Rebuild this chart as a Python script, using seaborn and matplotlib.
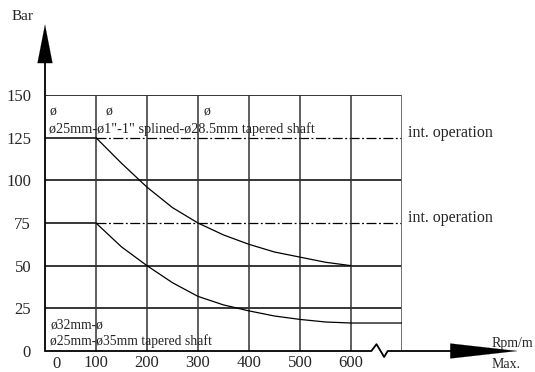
import numpy as np
import pandas as pd
import matplotlib
matplotlib.use("Agg")
import matplotlib.pyplot as plt
import seaborn as sns

# Curve data (rpm vs bar)
rpm_upper = [100, 150, 200, 250, 300, 350, 400, 450, 500, 550, 600]
bar_upper = [125, 110, 96, 84, 75, 68, 62.5, 58, 55, 52, 50]
rpm_lower = [100, 150, 200, 250, 300, 350, 400, 450, 500, 550, 600, 700]
bar_lower = [75, 61, 50, 40, 32, 27, 23.5, 20.5, 18.5, 17, 16.4, 16.4]

x_ticks = [0, 100, 200, 300, 400, 500, 600]
y_ticks = [0, 25, 50, 75, 100, 125, 150]
solid_rows = [25, 50, 100, 150]
dashed_rows = [75, 125]

sns.set_theme(style="white")
plt.rcParams["font.family"] = ["Liberation Serif", "DejaVu Sans"]

fig = plt.figure(figsize=(5.35, 3.72), dpi=100)
ax = fig.add_axes([45 / 535, 21 / 372, 357 / 535, 256 / 372])
ax.set_xlim(0, 700)
ax.set_ylim(0, 150)

# grid
for y in solid_rows:
    ax.plot([0, 700], [y, y], color="black", lw=1.1, zorder=2)
for y in dashed_rows:
    ax.plot([0, 100], [y, y], color="black", lw=1.1, zorder=2)
    ax.plot([100, 700], [y, y], color="black", lw=0.9, ls=(0, (8, 2, 1.5, 2)), zorder=2)
for x in x_ticks[1:]:
    ax.plot([x, x], [0, 150], color="#333333", lw=1.1, zorder=2)
ax.plot([700, 700], [0, 150], color="#666666", lw=1.3, zorder=2)

# curves
df_up = pd.DataFrame({"rpm": rpm_upper, "bar": bar_upper})
df_lo = pd.DataFrame({"rpm": rpm_lower, "bar": bar_lower})
sns.lineplot(data=df_up, x="rpm", y="bar", ax=ax, color="black", lw=0.9, zorder=3)
sns.lineplot(data=df_lo, x="rpm", y="bar", ax=ax, color="black", lw=0.9, zorder=3)

# axes look
for s in ax.spines.values():
    s.set_visible(False)
ax.set_xticks(x_ticks)
ax.set_yticks(y_ticks)
# the "0" label sits a little right of the axis in the reference
ax.set_xticklabels([""] + [str(v) for v in x_ticks[1:]], fontsize=12)
ax.set_yticklabels([str(v) for v in y_ticks], fontsize=12)
ax.tick_params(axis="x", length=0, pad=3)
ax.tick_params(axis="y", length=0, pad=10)
ax.text(23, -3, str(x_ticks[0]), fontsize=12, ha="center", va="top", clip_on=False)
ax.set_xlabel("")
ax.set_ylabel("")

# left axis with arrow
ax.plot([0, 0], [0, 175], color="black", lw=1.3, clip_on=False, zorder=4)
ax.annotate("", xy=(0, 193), xytext=(0, 172), xycoords="data",
            arrowprops=dict(arrowstyle="-|>,head_length=2.3,head_width=0.45",
                            color="black", lw=0.1), annotation_clip=False)
# bottom axis with break and arrow
ax.plot([0, 640, 650, 665, 672, 815], [0, 0, 4, -3.5, 0, 0], color="black",
        lw=1.3, clip_on=False, zorder=4)
ax.annotate("", xy=(932, 0), xytext=(810, 0), xycoords="data",
            arrowprops=dict(arrowstyle="-|>,head_length=4.0,head_width=0.45",
                            color="black", lw=0.1), annotation_clip=False)

# labels
fig.text(12 / 535, 1 - 16 / 372, "Bar", fontsize=11, va="center", ha="left")
fig.text(492 / 535, 1 - 343 / 372, "Rpm/m", fontsize=10, va="center", ha="left")
fig.text(492 / 535, 1 - 365 / 372, "Max.", fontsize=10, va="center", ha="left")

txt = dict(va="center", ha="left", clip_on=False, zorder=5)
for xp in [8, 118, 310]:
    ax.text(xp, 140, "\u00f8", fontsize=10, **txt)
ax.text(8, 130, "\u00f825mm-\u00f81\"-1\" splined-\u00f828.5mm tapered shaft",
        fontsize=10.3, **txt)
ax.text(10, 15, "\u00f832mm-\u00f8", fontsize=9.8, **txt)
ax.text(10, 6, "\u00f825mm-\u00f835mm tapered shaft", fontsize=9.8, **txt)
ax.text(712, 128, "int. operation", fontsize=11.5, va="center", ha="left")
ax.text(712, 78, "int. operation", fontsize=11.5, va="center", ha="left")

fig.savefig("out.png", dpi=100)
